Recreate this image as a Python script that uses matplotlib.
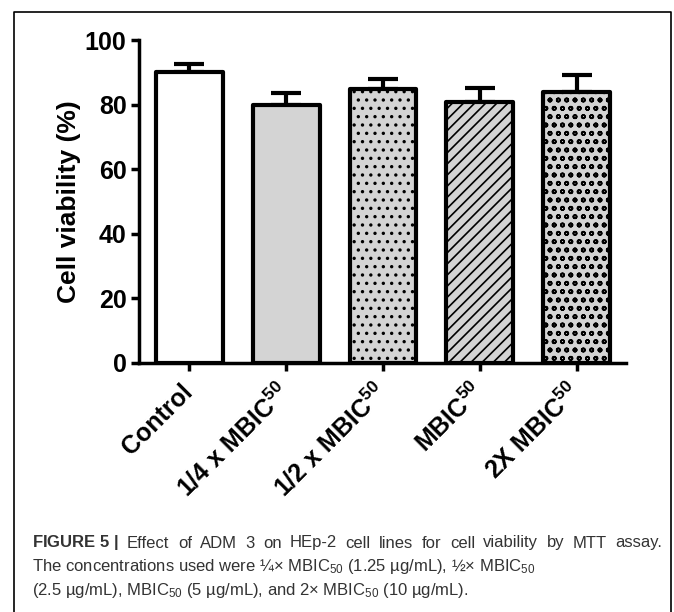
import matplotlib
matplotlib.use("Agg")
import matplotlib.pyplot as plt
from matplotlib.lines import Line2D

plt.rcParams['font.family'] = ['Liberation Sans', 'DejaVu Sans']
plt.rcParams['mathtext.fontset'] = 'custom'
plt.rcParams['mathtext.rm'] = 'Liberation Sans'
plt.rcParams['mathtext.it'] = 'Liberation Sans:italic'
plt.rcParams['mathtext.bf'] = 'Liberation Sans:bold'
plt.rcParams['hatch.linewidth'] = 1.2

categories = ["Control", r"1/4 x MBIC$^{\mathbf{50}}$", r"1/2 x MBIC$^{\mathbf{50}}$",
              r"MBIC$^{\mathbf{50}}$", r"2X MBIC$^{\mathbf{50}}$"]
values = [90.0, 80.0, 84.8, 80.8, 84.0]
errors = [2.6, 3.6, 3.2, 4.3, 5.3]
fills = ["white", "#d4d4d4", "#d4d4d4", "#d4d4d4", "#d4d4d4"]
hatches = [None, None, "..", "///", "oo"]
yticks = [0, 20, 40, 60, 80, 100]

W, H = 674, 612
fig = plt.figure(figsize=(W / 100, H / 100), dpi=100)
ax = fig.add_axes([139 / W, 1 - 363 / H, (626 - 139) / W, (363 - 40) / H])

x = list(range(len(categories)))
ax.errorbar(x, values, yerr=[[0] * len(errors), errors], fmt='none', ecolor='black',
            elinewidth=3, capsize=11, capthick=3, zorder=1)
bars = ax.bar(x, values, width=0.69, color=fills, edgecolor='black', linewidth=3,
              zorder=2)
for b, h in zip(bars, hatches):
    if h:
        b.set_hatch(h)
    b.set_joinstyle('round')

ax.set_xlim(-0.52, 4.51)
ax.set_ylim(0, 100)
ax.set_yticks(yticks)
ax.set_yticklabels([str(v) for v in yticks], fontsize=18, fontweight='bold')
ax.set_xticks(x)
ax.set_xticklabels(categories, fontsize=18, fontweight='bold', rotation=45,
                   ha='right', va='center', rotation_mode='anchor')
ax.tick_params(axis='both', direction='out', length=6, width=2.5, pad=3)
ax.tick_params(axis='x', pad=12)
for s in ['top', 'right']:
    ax.spines[s].set_visible(False)
for s in ['left', 'bottom']:
    ax.spines[s].set_linewidth(2.5)
ax.set_ylabel("Cell viability (%)", fontsize=19, fontweight='bold', labelpad=3)

# outer frame
fig.add_artist(Line2D([14 / W, 14 / W, 671 / W, 671 / W],
                      [-0.02, 1 - 12 / H, 1 - 12 / H, -0.02],
                      color='black', linewidth=1.2, transform=fig.transFigure))

cap_color = '#333333'
cap_fs = 12
renderer = fig.canvas.get_renderer()

# first caption line, justified between x=32 and x=662
line1_words = [r"$\mathbf{FIGURE\ 5\ |}$", "Effect", "of", "ADM", "3", "on", "HEp-2", "cell",
               "lines", "for", "cell", "viability", "by", "MTT", "assay."]
x0, x1 = 32, 662
texts = []
widths = []
for w in line1_words:
    t = fig.text(0, 1 - 543 / H, w, fontsize=cap_fs, color=cap_color, va='center', ha='left')
    widths.append(t.get_window_extent(renderer).width)
    texts.append(t)
gap = (x1 - x0 - sum(widths)) / (len(line1_words) - 1)
cx = x0
for t, wd in zip(texts, widths):
    t.set_x(cx / W)
    cx += wd + gap

fig.text(32 / W, 1 - 567 / H,
         "The concentrations used were \u00bc\u00d7 MBIC$_{50}$ (1.25 \u00b5g/mL), \u00bd\u00d7 MBIC$_{50}$",
         fontsize=cap_fs, color=cap_color, va='center', ha='left')
fig.text(32 / W, 1 - 590 / H,
         "(2.5 \u00b5g/mL), MBIC$_{50}$ (5 \u00b5g/mL), and 2\u00d7 MBIC$_{50}$ (10 \u00b5g/mL).",
         fontsize=cap_fs, color=cap_color, va='center', ha='left')

fig.savefig("out.png", dpi=100)
